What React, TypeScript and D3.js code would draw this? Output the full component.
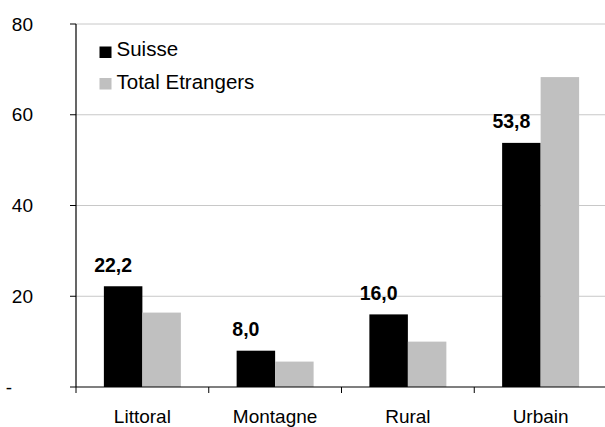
import React from "react";
import * as d3 from "d3";

const categories = ["Littoral", "Montagne", "Rural", "Urbain"];
const seriesNames = ["Suisse", "Total Etrangers"];
const suisse = [22.2, 8.0, 16.0, 53.8];
const etrangers = [16.4, 5.6, 10.0, 68.3];
const yTicks = [0, 20, 40, 60, 80];
const colors = ["#000000", "#c0c0c0"];

const W = 605;
const H = 427;
const FONT = "Liberation Sans, Arial, sans-serif";

export default function App() {
  const x = d3.scaleBand<string>().domain(categories).range([76, 607]).padding(0);
  const bw = x.bandwidth();
  const x1 = d3
    .scaleBand<string>()
    .domain(seriesNames)
    .range([bw * 0.21, bw * 0.79])
    .padding(0);
  const y = d3.scaleLinear().domain([0, 80]).range([387, 24]);
  const series = [suisse, etrangers];
  const fmt = (v: number) => v.toFixed(1).replace(".", ",");

  return (
    <svg
      width={W}
      height={H}
      style={{ position: "absolute", left: 0, top: 0, background: "#fff" }}
      fontFamily={FONT}
    >
      {yTicks.filter((t) => t > 0).map((t) => (
        <line key={"g" + t} x1={76} x2={W} y1={y(t)} y2={y(t)} stroke="#c8c8c8" strokeWidth={1} />
      ))}
      {categories.map((c, i) => (
        <g key={c} transform={`translate(${x(c)},0)`}>
          {series.map((s, j) => (
            <rect
              key={j}
              x={x1(seriesNames[j])}
              y={y(s[i])}
              width={x1.bandwidth()}
              height={y(0) - y(s[i])}
              fill={colors[j]}
            />
          ))}
          <text
            x={(x1(seriesNames[0]) as number) + x1.bandwidth() / 2 - 10}
            y={y(suisse[i]) - 14.5}
            textAnchor="middle"
            fontSize={19.5}
            fontWeight="bold"
            fill="#000"
          >
            {fmt(suisse[i])}
          </text>
          <text x={bw / 2} y={423} textAnchor="middle" fontSize={19} fill="#000">
            {c}
          </text>
        </g>
      ))}
      <line x1={76} x2={76} y1={24} y2={387} stroke="#000" strokeWidth={1.2} />
      {yTicks.map((t) => (
        <g key={"t" + t}>
          <line x1={70} x2={76} y1={y(t)} y2={y(t)} stroke="#000" strokeWidth={1} />
          <text
            x={t === 0 ? 12 : 33}
            y={y(t)}
            dy="0.35em"
            textAnchor="end"
            fontSize={19}
            fill="#000"
          >
            {t === 0 ? "-" : String(t)}
          </text>
        </g>
      ))}
      <line x1={76} x2={W} y1={387} y2={387} stroke="#000" strokeWidth={1.2} />
      {categories.map((c) => (
        <line key={"xt" + c} x1={x(c)} x2={x(c)} y1={387} y2={393} stroke="#000" strokeWidth={1} />
      ))}
      {seriesNames.map((n, j) => (
        <g key={n}>
          <rect x={99.5} y={j === 0 ? 46.5 : 78} width={12} height={11.5} fill={colors[j]} />
          <text x={116.5} y={j === 0 ? 55.7 : 89.3} fontSize={20.5} fill="#000">
            {n}
          </text>
        </g>
      ))}
    </svg>
  );
}
